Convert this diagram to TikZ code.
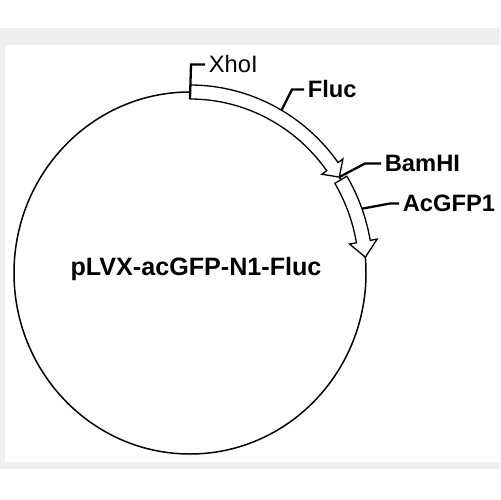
\documentclass[tikz,border=0pt]{standalone}
\usepackage{fontspec}
\setsansfont{Liberation Sans}
\usetikzlibrary{positioning}
\definecolor{framegray}{RGB}{239,239,239}

\begin{document}
\begin{tikzpicture}[x=0.02cm,y=-0.02cm,
    site/.style={anchor=west,inner sep=0.07cm,font=\sffamily\fontsize{13.5}{15}\selectfont},
    bsite/.style={site,font=\sffamily\bfseries\fontsize{13.5}{15}\selectfont},
    band/.style={draw,fill=white,line width=0.75pt,line join=miter},
    lead/.style={line width=1.3pt}]
  \useasboundingbox (0,0) rectangle (500,500);
  \fill[framegray] (0,28) rectangle (500,469);
  \fill[white] (5,45) rectangle (500,462);
  % backbone
  \draw[line width=0.85pt] (190,273) ellipse [x radius=176, y radius=181];
  \begin{scope}[shift={(190,273)}]
    % Fluc
    \draw[band] (-90:183 and 188) arc[start angle=-90,end angle=-36,x radius=183,y radius=188]
      -- (-36:189 and 194) -- (-32:176 and 181) -- (-36:163 and 168) -- (-36:169 and 174)
      arc[start angle=-36,end angle=-90,x radius=169,y radius=174] -- cycle;
    % AcGFP1
    \draw[band] (-31:183 and 188) arc[start angle=-31,end angle=-10,x radius=183,y radius=188]
      -- (-10:190 and 195) -- (-5:176 and 181) -- (-10:162 and 167) -- (-10:169 and 174)
      arc[start angle=-10,end angle=-31,x radius=169,y radius=174] -- cycle;
    \coordinate (xhoSite) at (-90:169 and 174);
    \coordinate (flucSite) at (-60:183 and 188);
    \coordinate (bamSite) at (-32:176 and 181);
    \coordinate (acSite) at (-20:183 and 188);
  \end{scope}
  \node[site] (xho) at (205,64.5) {XhoI};
  \node[bsite] (fluc) at (304,89.5) {Fluc};
  \node[bsite] (bam) at (381,163.5) {BamHI};
  \node[bsite] (ac) at (399,203.5) {AcGFP1};
  \node[font=\sffamily\bfseries\fontsize{14.3}{16}\selectfont,anchor=base] (name) at (196,275) {pLVX-acGFP-N1-Fluc};
  \draw[lead] (xho.west) -- ++(-14,0) -- (xhoSite);
  \draw[lead] (fluc.west) -- ++(-12,0) -- (flucSite);
  \draw[lead] (bam.west) -- ++(-16,0) -- (bamSite);
  \draw[lead] (ac.west) -- ++(-9,0) -- (acSite);
\end{tikzpicture}
\end{document}
